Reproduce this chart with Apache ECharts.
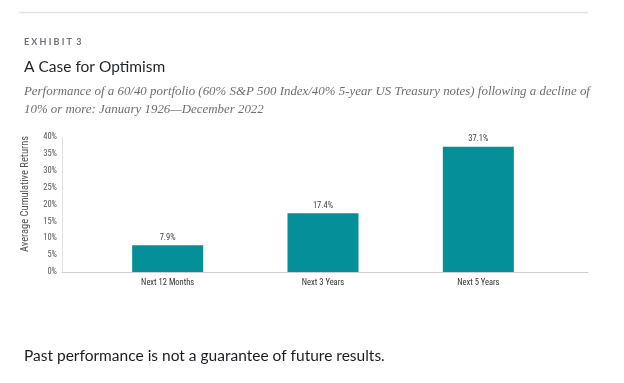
<!DOCTYPE html>
<html>
<head>
<meta charset="utf-8">
<script src="https://cdn.jsdelivr.net/npm/echarts@6/dist/echarts.min.js"></script>
<style>
html,body{margin:0;padding:0;background:#fff;}
#c{width:624px;height:383px;}
</style>
</head>
<body>
<div id="c"></div>
<script>
const categories = ['Next 12 Months', 'Next 3 Years', 'Next 5 Years'];
const returnsPct = [7.9, 17.4, 37.1];
const yTicks = [0, 5, 10, 15, 20, 25, 30, 35, 40];

const narrow = '"Liberation Sans Narrow", "Roboto Condensed", "Liberation Sans", sans-serif';
const chart = echarts.init(document.getElementById('c'), null, {renderer: 'canvas'});
chart.setOption({
  animation: false,
  backgroundColor: '#fff',
  title: [
    {text: 'E X H I B I T  3', left: 19, top: 33,
     textStyle: {fontFamily: 'Lato', fontSize: 9, fontWeight: 'bold', color: '#6e7276'}},
    {text: 'A Case for Optimism', left: 19, top: 54,
     textStyle: {fontFamily: 'Lato', fontSize: 15.5, fontWeight: 'normal', color: '#1f2328'}},
    {text: 'Performance of a 60/40 portfolio (60% S&P 500 Index/40% 5-year US Treasury notes) following a decline of\n10% or more: January 1926\u2014December 2022',
     left: 19, top: 78,
     textStyle: {fontFamily: '"Liberation Serif", serif', fontStyle: 'italic', fontSize: 12.9, lineHeight: 18, fontWeight: 'normal', color: '#6f6f6f'}},
    {text: 'Past performance is not a guarantee of future results.', left: 19, top: 343,
     textStyle: {fontFamily: 'Lato', fontSize: 15.5, fontWeight: 'normal', color: '#1a1e22'}}
  ],
  graphic: [
    {type: 'line', shape: {x1: 19, y1: 12.5, x2: 588, y2: 12.5}, style: {stroke: '#e2e2e2', lineWidth: 1.5}},
    {type: 'text', x: 25, y: 194, rotation: Math.PI / 2,
     style: {text: 'Average Cumulative Returns', fontFamily: narrow, fontSize: 10.5,
       fill: '#555', textAlign: 'center', textVerticalAlign: 'middle'}}
  ],
  grid: [
    {left: 62, right: 36, top: 137, bottom: 111},
    {left: 90, right: 68, top: 137, bottom: 111}
  ],
  xAxis: [
    {type: 'value', gridIndex: 0, min: 0, max: 1,
     axisLine: {show: true, onZero: false, lineStyle: {color: '#cfcfcf', width: 1}},
     axisTick: {show: false}, axisLabel: {show: false}, splitLine: {show: false}},
    {type: 'category', gridIndex: 1, data: categories,
     axisLine: {show: false}, axisTick: {show: false},
     axisLabel: {fontFamily: narrow, fontSize: 8.5, color: '#333', margin: 6}}
  ],
  yAxis: [
    {type: 'value', gridIndex: 0, min: yTicks[0], max: yTicks[yTicks.length - 1], interval: 5,
     axisLine: {show: true, lineStyle: {color: '#e3e3e3', width: 1}},
     axisTick: {show: false}, splitLine: {show: false},
     axisLabel: {formatter: '{value}%', fontFamily: narrow, fontSize: 8.5, color: '#555', margin: 5}},
    {type: 'value', gridIndex: 1, min: yTicks[0], max: yTicks[yTicks.length - 1], show: false,
     splitLine: {show: false}}
  ],
  series: [{
    type: 'bar', xAxisIndex: 1, yAxisIndex: 1,
    data: returnsPct, barWidth: 71,
    itemStyle: {color: '#058f98'},
    label: {show: true, position: 'top', distance: 3, formatter: p => p.value + '%',
      fontFamily: narrow, fontSize: 8.5, color: '#444'}
  }]
});
</script>
</body>
</html>
